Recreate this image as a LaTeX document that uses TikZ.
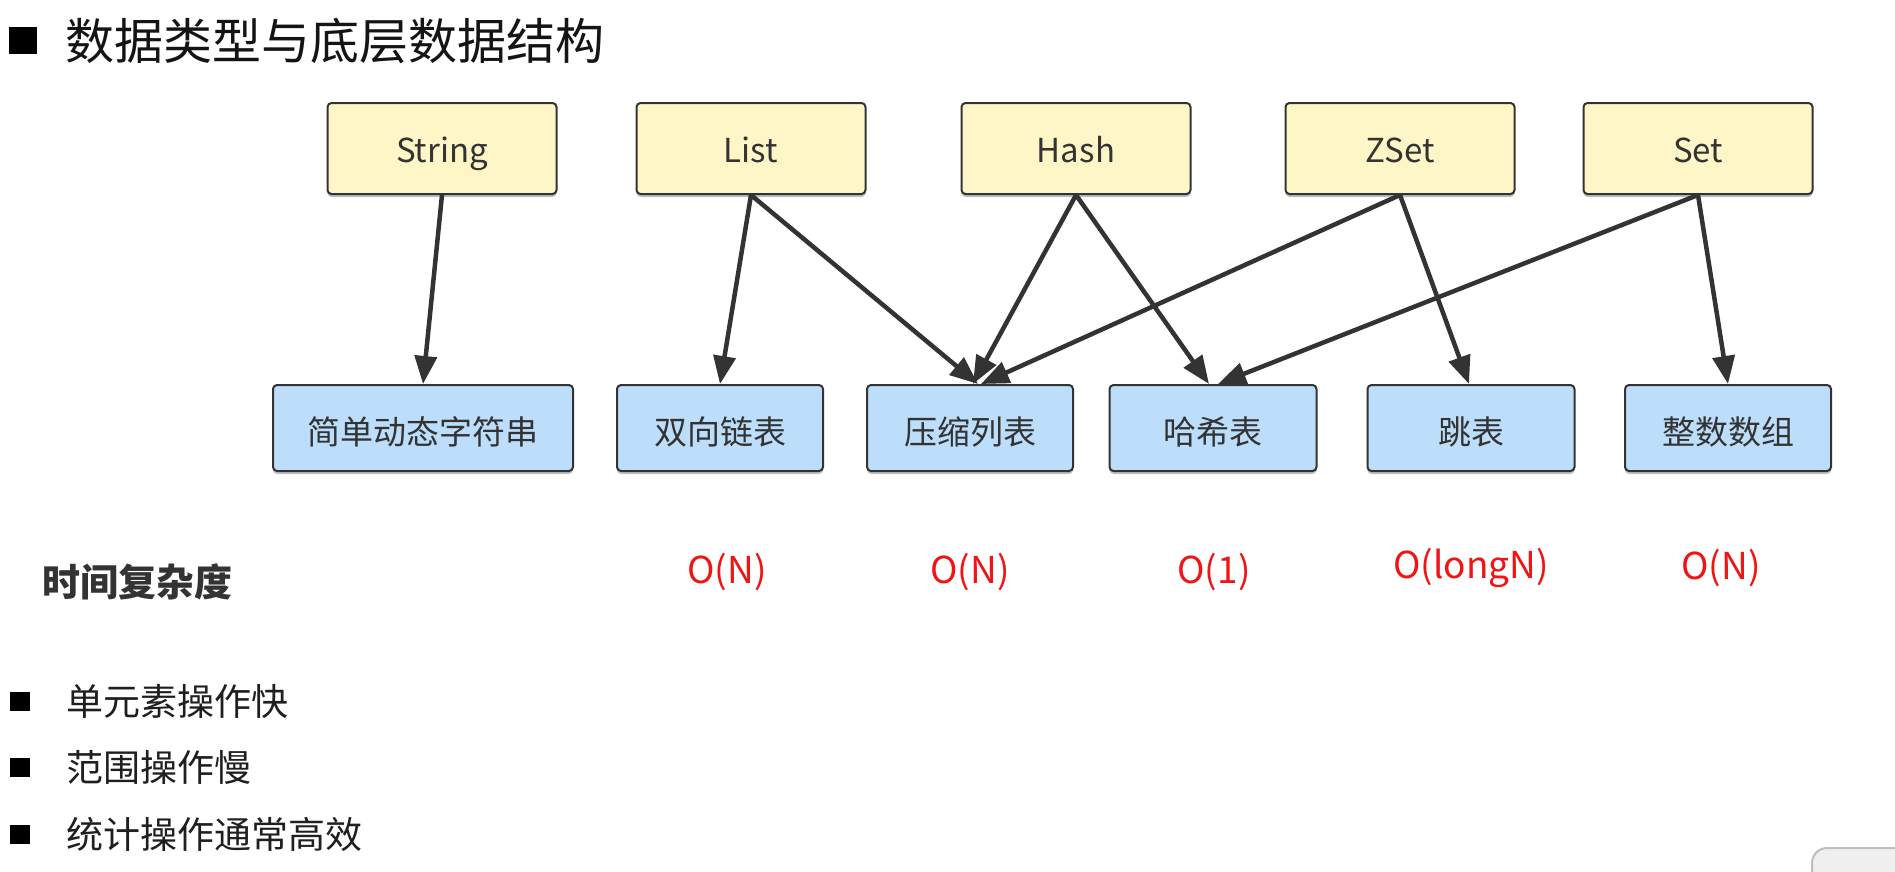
\documentclass[tikz,border=0pt]{standalone}
\usepackage{fontspec}
\setmainfont{Noto Sans CJK SC}
\usetikzlibrary{arrows.meta,shadows}
\definecolor{ybg}{RGB}{255,246,199}
\definecolor{bbg}{RGB}{188,222,250}
\definecolor{edgec}{RGB}{51,51,51}
\definecolor{txt}{RGB}{51,51,51}
\definecolor{cred}{RGB}{240,20,20}
\begin{document}
\begin{tikzpicture}[x=1pt,y=-1pt,
  box/.style={rectangle, rounded corners=4pt, draw=edgec, line width=2pt, inner sep=0pt, text=txt,
    font=\fontsize{33}{40}\selectfont,
    drop shadow={shadow xshift=0pt, shadow yshift=-3pt, opacity=0.25, fill=black}},
  ybox/.style={box, fill=ybg, minimum width=229pt, minimum height=91pt, text height=27pt, text depth=0pt},
  bbox/.style={box, fill=bbg, minimum height=86pt, text height=33pt, text depth=0pt},
  link/.style={draw=edgec, line width=4.5pt, -{Triangle[length=28pt,width=22pt]}},
  cx/.style={text=cred, font=\fontsize{37}{44}\selectfont, inner sep=0pt},
  bsq/.style={fill=black, minimum width=20pt, minimum height=19pt, inner sep=0pt},
  btxt/.style={anchor=west, inner sep=0pt, text=black!88, font=\fontsize{37}{44}\selectfont}]
\useasboundingbox (0,0) rectangle (1895,871);
\fill[white] (0,0) rectangle (1895,871);

% screen artifact (bottom right)
\path[fill={rgb,255:red,239;green,239;blue,239}, draw={rgb,255:red,190;green,190;blue,190}, line width=2pt, rounded corners=15pt]
  (1812,848) rectangle (1920,900);

% title
\node[fill=black, minimum width=28pt, minimum height=27pt, inner sep=0pt] (tsq) at (23,40.5) {};
\node[anchor=west, inner sep=0pt, text=black!92, font=\fontsize{49}{58}\selectfont] (title) at (65,41) {数据类型与底层数据结构};

% data types
\node[ybox] (str)  at (442,148.5)  {String};
\node[ybox] (lst)  at (751,148.5)  {List};
\node[ybox] (hsh)  at (1076,148.5) {Hash};
\node[ybox] (zst)  at (1400,148.5) {ZSet};
\node[ybox] (set)  at (1698,148.5) {Set};

% structures
\node[bbox, minimum width=300pt] (sds) at (423,428)  {简单动态字符串};
\node[bbox, minimum width=206pt] (dll) at (720,428)  {双向链表};
\node[bbox, minimum width=206pt] (zip) at (970,428)  {压缩列表};
\node[bbox, minimum width=207pt] (ht)  at (1213,428) {哈希表};
\node[bbox, minimum width=207pt] (skl) at (1471,428) {跳表};
\node[bbox, minimum width=206pt] (ints) at (1728,428) {整数数组};

% connectors
\draw[link] (str.south) -- (sds.north);
\draw[link] (lst.south) -- (dll.north);
\draw[link] (lst.south) -- ([xshift=8pt]zip.north);
\draw[link] (hsh.south) -- ([xshift=3pt]zip.north);
\draw[link] (hsh.south) -- ([xshift=-4pt]ht.north);
\draw[link] (zst.south) -- ([xshift=11pt]zip.north);
\draw[link] (zst.south) -- ([xshift=-2pt]skl.north);
\draw[link] (set.south) -- ([xshift=5pt]ht.north);
\draw[link] (set.south) -- (ints.north);

% complexity
\node[anchor=west, inner sep=0pt, text=txt, font=\bfseries\fontsize{38}{46}\selectfont] (tc) at (42,582) {时间复杂度};
\node[cx] (c1) at (727,572)  {O(N)};
\node[cx] (c2) at (970,572)  {O(N)};
\node[cx] (c3) at (1214,572) {O(1)};
\node[cx] (c4) at (1471,568) {O(longN)};
\node[cx] (c5) at (1721,568) {O(N)};

% bullets
\node[bsq] (b1) at (20,701) {};
\node[btxt] (t1) at (66,701) {单元素操作快};
\node[bsq] (b2) at (20,767) {};
\node[btxt] (t2) at (66,767) {范围操作慢};
\node[bsq] (b3) at (20,834) {};
\node[btxt] (t3) at (66,834) {统计操作通常高效};
\end{tikzpicture}
\end{document}
